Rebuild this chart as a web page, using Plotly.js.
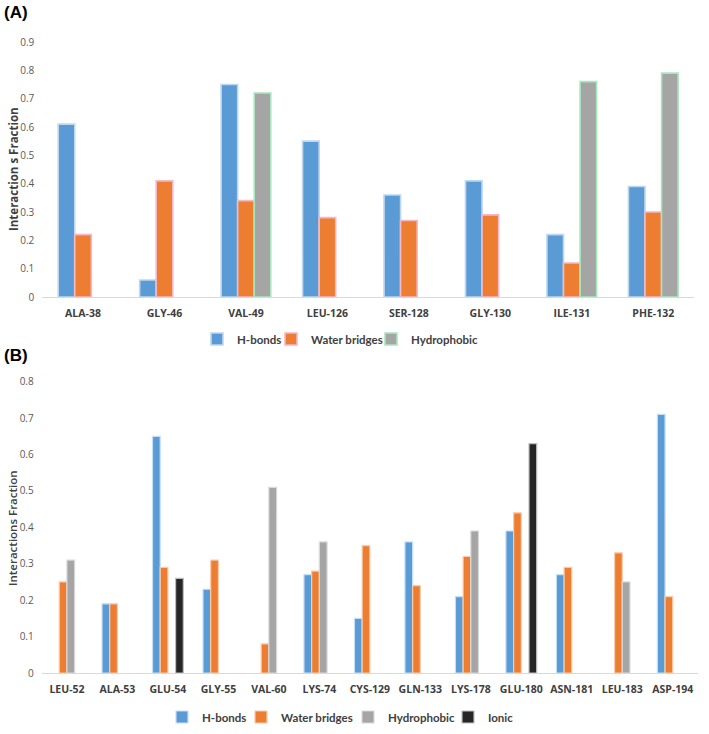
<!DOCTYPE html>
<html>
<head>
<meta charset="utf-8">
<script src="https://cdn.plot.ly/plotly-3.0.1.min.js"></script>
<style>html,body{margin:0;padding:0;background:#fff}#chart{width:709px;height:734px}</style>
</head>
<body>
<div id="chart"></div>
<script>
// Panel A data
const residuesA = ["ALA-38","GLY-46","VAL-49","LEU-126","SER-128","GLY-130","ILE-131","PHE-132"];
const hbondsA   = [0.61, 0.06, 0.75, 0.55, 0.36, 0.41, 0.22, 0.39];
const waterA    = [0.22, 0.41, 0.34, 0.28, 0.27, 0.29, 0.12, 0.30];
const hydroA    = [null, null, 0.72, null, null, null, 0.76, 0.79];

// Panel B data
const residuesB = ["LEU-52","ALA-53","GLU-54","GLY-55","VAL-60","LYS-74","CYS-129","GLN-133","LYS-178","GLU-180","ASN-181","LEU-183","ASP-194"];
const hbondsB   = [null, 0.19, 0.65, 0.23, null, 0.27, 0.15, 0.36, 0.21, 0.39, 0.27, null, 0.71];
const waterB    = [0.25, 0.19, 0.29, 0.31, 0.08, 0.28, 0.35, 0.24, 0.32, 0.44, 0.29, 0.33, 0.21];
const hydroB    = [0.31, null, null, null, 0.51, 0.36, null, null, 0.39, null, null, 0.25, null];
const ionicB    = [null, null, 0.26, null, null, null, null, null, null, 0.63, null, null, null];

const seriesNames = ["H-bonds","Water bridges","Hydrophobic","Ionic"];
const yTitleA = "Interaction s Fraction";
const yTitleB = "Interactions Fraction";

const W = 709, H = 734;
const BLUE = "#5B9BD5", ORANGE = "#ED7D31", GRAY = "#A5A5A5", BLACK = "#262626";

function bar(x, y, name, color, lineColor, xa, ya, legend, lw) {
  return {type: "bar", x: x, y: y, name: name, xaxis: xa, yaxis: ya, legend: legend,
    marker: {color: color, line: {color: lineColor, width: lw}}, hoverinfo: "x+y+name"};
}

const data = [
  bar(residuesA, hbondsA, seriesNames[0], BLUE, "#BDD7EE", "x", "y", "legend", 1.6),
  bar(residuesA, waterA, seriesNames[1], ORANGE, "#F2B8C6", "x", "y", "legend2", 1.6),
  bar(residuesA, hydroA, seriesNames[2], GRAY, "#A8E6BE", "x", "y", "legend3", 1.6),
  bar(residuesB, hbondsB, seriesNames[0], BLUE, "#C5E0F5", "x2", "y2", "legend4", 1.2),
  bar(residuesB, waterB, seriesNames[1], ORANGE, "#F8CBAD", "x2", "y2", "legend5", 1.2),
  bar(residuesB, hydroB, seriesNames[2], GRAY, "#D9D9D9", "x2", "y2", "legend6", 1.2),
  bar(residuesB, ionicB, seriesNames[3], BLACK, "#BFBFBF", "x2", "y2", "legend7", 1.2)
];

const px = v => v / W;
const py = v => 1 - v / H;

const tickFont = {family: "Open Sans, Liberation Sans, sans-serif", size: 10, color: "#595959"};
const catFont = {family: "Open Sans, Liberation Sans, sans-serif", size: 10.5, color: "#404040", weight: "bold"};

function xaxis(domain, anchor) {
  return {domain: domain, anchor: anchor, showgrid: false, zeroline: false, showline: true,
    linecolor: "#D9D9D9", linewidth: 1, ticks: "", tickfont: catFont, ticklabelstandoff: 6,
    fixedrange: true};
}
function yaxis(domain, anchor, maxv) {
  return {domain: domain, anchor: anchor, range: [0, maxv], dtick: 0.1, tick0: 0,
    showgrid: false, zeroline: false, showline: false, ticks: "", tickfont: tickFont,
    ticklabelstandoff: 7, fixedrange: true};
}

const legendFont = {family: "Lato, Open Sans, sans-serif", size: 11.5, color: "#404040", weight: "bold"};
function leg(textStartX, centerY) {
  return {orientation: "h", x: px(textStartX - 38), xanchor: "left", y: py(centerY), yanchor: "middle",
    font: legendFont, bgcolor: "rgba(0,0,0,0)", itemwidth: 30, borderwidth: 0};
}

const layout = {
  width: W, height: H,
  margin: {l: 0, r: 0, t: 0, b: 0},
  paper_bgcolor: "#ffffff", plot_bgcolor: "#ffffff",
  barmode: "group", bargap: 0.39, bargroupgap: 0,
  showlegend: true,
  xaxis: xaxis([px(42.3), px(694)], "y"),
  yaxis: yaxis([py(297), py(42)], "x", 0.9),
  xaxis2: xaxis([px(41.7), px(698)], "y2"),
  yaxis2: yaxis([py(673), py(381.7)], "x2", 0.8),
  legend: leg(235, 339),
  legend2: leg(309, 339),
  legend3: leg(409, 339),
  legend4: leg(200, 717),
  legend5: leg(279, 717),
  legend6: leg(386, 717),
  legend7: leg(486, 717),
  annotations: [
    {text: "(A)", xref: "paper", yref: "paper", x: px(2), y: py(13), xanchor: "left", yanchor: "middle",
      showarrow: false, font: {family: "Liberation Sans, Arial, sans-serif", size: 17, color: "#000", weight: "bold"}},
    {text: "(B)", xref: "paper", yref: "paper", x: px(2), y: py(355), xanchor: "left", yanchor: "middle",
      showarrow: false, font: {family: "Liberation Sans, Arial, sans-serif", size: 17, color: "#000", weight: "bold"}},
    {text: yTitleA, xref: "paper", yref: "paper", x: px(13), y: py(169), xanchor: "center", yanchor: "middle",
      textangle: -90, showarrow: false, font: {family: "Open Sans, sans-serif", size: 11.5, color: "#404040", weight: "bold"}},
    {text: yTitleB, xref: "paper", yref: "paper", x: px(12), y: py(528), xanchor: "center", yanchor: "middle",
      textangle: -90, showarrow: false, font: {family: "Open Sans, sans-serif", size: 11.5, color: "#404040", weight: 600}}
  ]
};

Plotly.newPlot("chart", data, layout, {displayModeBar: false, staticPlot: true});
</script>
</body>
</html>
